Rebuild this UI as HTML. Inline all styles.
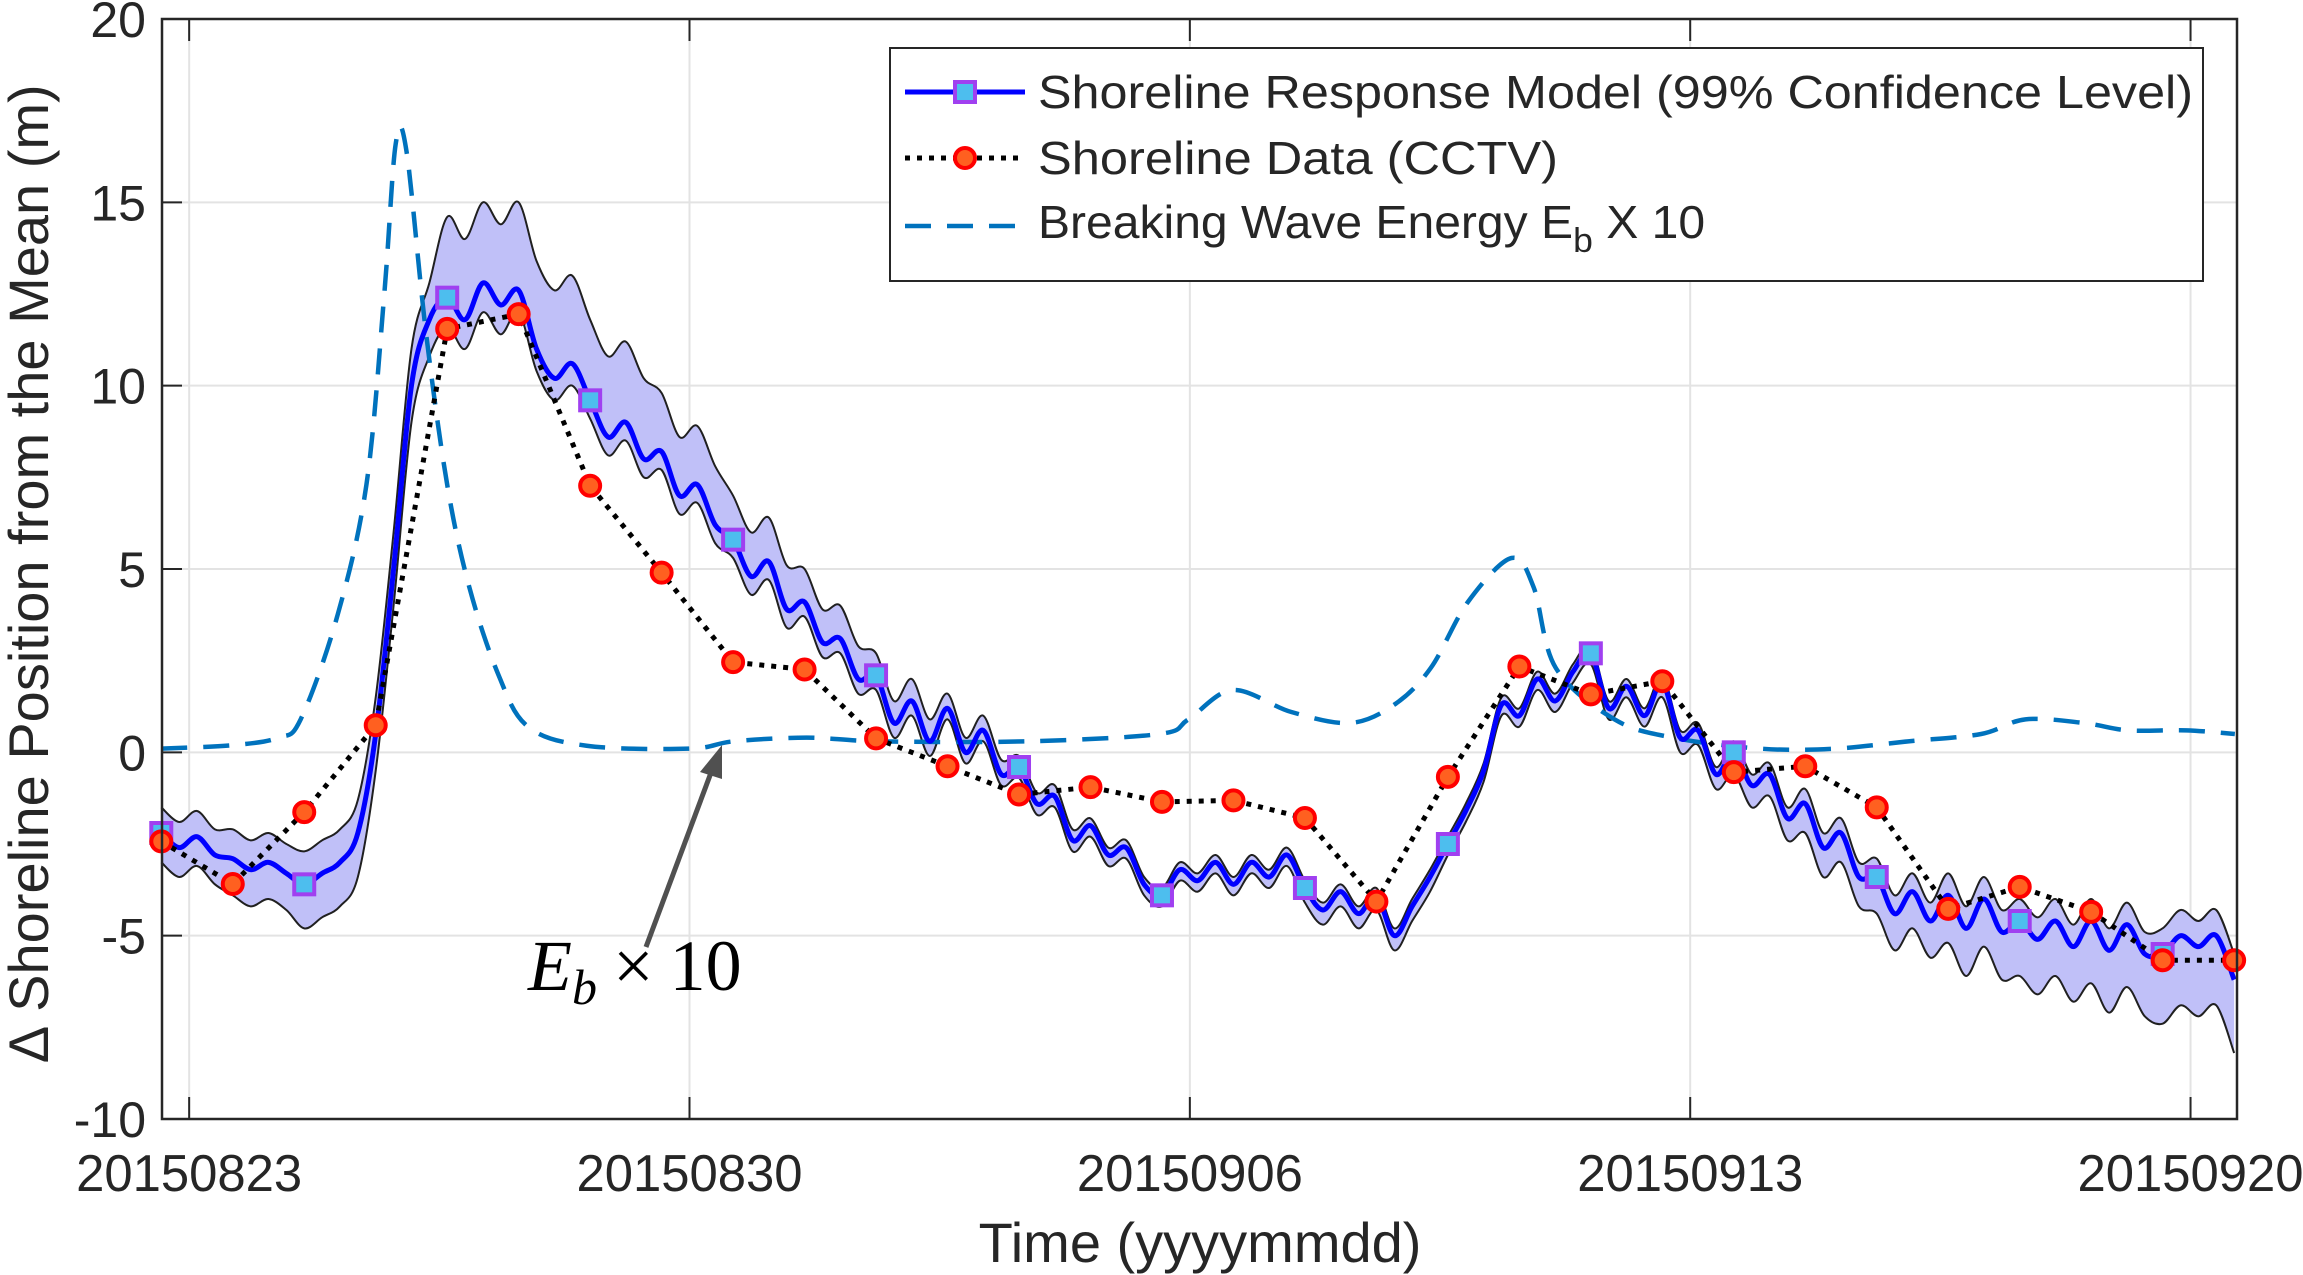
<!DOCTYPE html>
<html><head><meta charset="utf-8"><style>
html,body{margin:0;padding:0;background:#fff}
svg{display:block}
text{font-family:"Liberation Sans",Arial,sans-serif;fill:#262626}
</style></head><body>
<svg id="chart" width="2303" height="1275" viewBox="0 0 2303 1275" xmlns="http://www.w3.org/2000/svg">
<g id="grid"></g>
<g id="band"></g>
<g id="series"></g>
<g id="axes"></g>
<g id="legend"></g>
<g>
<line x1="646" y1="947" x2="712" y2="770" stroke="#505050" stroke-width="5"/>
<polygon points="722,745 700,772 722,779" fill="#505050"/>
<text x="528" y="990" style="font-family:'Liberation Serif',serif;font-size:72px;fill:#000"><tspan font-style="italic">E</tspan><tspan font-style="italic" font-size="50" dy="14">b</tspan><tspan dy="-14" dx="16">×</tspan><tspan dx="16">10</tspan></text>
</g>
</svg>
<script>
const yTicks=[-10,-5,0,5,10,15,20];
const xTickDays=[0,7,14,21,28];
const xTickLabels=["20150823","20150830","20150906","20150913","20150920"];
const modelStart=-0.39, modelStep=0.25;
const modelValues=[-2.2,-2.6,-2.3,-2.8,-2.9,-3.2,-3.0,-3.3,-3.6,-3.3,-3.0,-2.2,0.5,5.0,10.0,11.8,12.4,11.8,12.8,12.2,12.6,11.0,10.2,10.6,9.6,8.6,9.0,8.0,8.2,7.0,7.3,6.2,5.8,4.8,5.2,3.9,4.1,3.0,3.1,2.0,2.1,0.8,1.4,0.3,1.2,0.0,0.6,-0.6,-0.4,-1.4,-1.2,-2.4,-2.0,-2.8,-2.6,-3.6,-3.9,-3.2,-3.5,-3.0,-3.6,-3.0,-3.4,-2.8,-3.7,-4.3,-3.8,-4.4,-3.9,-5.0,-4.2,-3.4,-2.5,-1.6,-0.5,1.3,1.0,2.0,1.4,2.2,2.7,1.2,1.8,1.0,1.9,0.4,0.6,-0.6,0.0,-0.9,-0.6,-1.8,-1.4,-2.6,-2.2,-3.4,-3.4,-4.4,-3.8,-4.6,-3.9,-4.8,-4.0,-4.9,-4.6,-5.1,-4.6,-5.3,-4.6,-5.4,-4.7,-5.5,-5.5,-5.0,-5.3,-5.0,-6.2];
const bandUpper=[0.7,0.8,0.9,1.0,2.2,2.4,2.2,1.6,1.2,0.9,0.6,0.4,0.3,0.2,0.2,0.2,0.2,0.2,0.2,0.2,0.2,0.2,0.3,0.4,0.5,0.6,0.6,0.6,0.7,0.7];
const bandLower=[0.8,1.0,1.2,1.0,0.8,0.6,0.5,0.5,0.5,0.4,0.4,0.3,0.3,0.3,0.3,0.3,0.4,0.4,0.3,0.3,0.3,0.4,0.6,0.8,1.0,1.3,1.5,1.7,1.9,2.0];
const cctvStart=-0.39, cctvStep=1;
const cctvValues=[-2.43,-3.59,-1.63,0.74,11.55,11.95,7.27,4.9,2.46,2.26,0.38,-0.38,-1.15,-0.95,-1.35,-1.31,-1.79,-4.07,-0.67,2.34,1.58,1.94,-0.54,-0.38,-1.5,-4.27,-3.67,-4.35,-5.67,-5.67];
const energyDays=[-0.39,0.64,1.25,1.56,2.07,2.48,2.73,2.89,3.04,3.31,3.61,3.92,4.33,4.74,5.56,7.0,7.62,8.64,9.67,11.72,13.57,13.98,14.6,15.42,16.24,16.86,17.37,17.89,18.5,18.81,19.12,19.94,20.76,21.99,23.02,24.05,25.07,25.69,26.51,27.12,27.94,28.62];
const energyValues=[0.1,0.2,0.4,0.9,3.7,7.3,12.5,16.6,16.4,11.5,7.3,4.5,2.1,0.7,0.18,0.1,0.3,0.4,0.3,0.3,0.5,0.9,1.7,1.1,0.8,1.3,2.3,4.1,5.3,4.5,2.3,0.9,0.4,0.1,0.1,0.3,0.5,0.9,0.8,0.6,0.6,0.5];

const L=162,R=2237,T=19,B=1119,X0=-0.38,X1=28.65,Y0=-10,Y1=20;
const sx=d=>L+(d-X0)/(X1-X0)*(R-L);
const sy=v=>B-(v-Y0)/(Y1-Y0)*(B-T);
const NS="http://www.w3.org/2000/svg";
function mk(tag,parent,attrs){const e=document.createElementNS(NS,tag);for(const k in attrs)e.setAttribute(k,attrs[k]);parent.appendChild(e);return e;}
function smooth(pts,move){let d=(move?'M':'L')+pts[0][0]+','+pts[0][1];
 for(let i=0;i<pts.length-1;i++){const p0=pts[Math.max(0,i-1)],p1=pts[i],p2=pts[i+1],p3=pts[Math.min(pts.length-1,i+2)];
  const c1=[p1[0]+(p2[0]-p0[0])/6,p1[1]+(p2[1]-p0[1])/6],c2=[p2[0]-(p3[0]-p1[0])/6,p2[1]-(p3[1]-p1[1])/6];
  d+='C'+c1.join(',')+' '+c2.join(',')+' '+p2.join(',');}
 return d;}
const grid=document.getElementById('grid'),axes=document.getElementById('axes'),band=document.getElementById('band'),series=document.getElementById('series'),legend=document.getElementById('legend');

yTicks.forEach(v=>{
 const g=mk('line',grid,{x1:L,x2:R,y1:sy(v),y2:sy(v),stroke:'#e3e3e3','stroke-width':2});
 
 
 const t=mk('line',axes,{x1:L,x2:L+20,y1:sy(v),y2:sy(v),stroke:'#262626','stroke-width':2});
 
 
 const lb=mk('text',axes,{x:L-16,y:sy(v)+18,'text-anchor':'end','font-size':50});
 lb.textContent=v;
 
 
});
xTickDays.forEach((d,i)=>{
 const g=mk('line',grid,{x1:sx(d),x2:sx(d),y1:T,y2:B,stroke:'#e3e3e3','stroke-width':2});
 
 
 const t=mk('line',axes,{x1:sx(d),x2:sx(d),y1:B,y2:B-22,stroke:'#262626','stroke-width':2});
 
 
 const t2=mk('line',axes,{x1:sx(d),x2:sx(d),y1:T,y2:T+22,stroke:'#262626','stroke-width':2});
 
 
 const lb=mk('text',axes,{x:sx(d),y:B+72,'text-anchor':'middle','font-size':52,textLength:226,lengthAdjust:'spacingAndGlyphs'});
 lb.textContent=xTickLabels[i];
 
 
});
const frame=mk('rect',axes,{x:L,y:T,width:R-L,height:B-T,fill:'none',stroke:'#262626','stroke-width':2.5});


const xt=mk('text',axes,{x:1200,y:1262,'text-anchor':'middle','font-size':56});
xt.textContent='Time (yyyymmdd)';


const yt=mk('text',axes,{x:0,y:0,'text-anchor':'middle','font-size':56,transform:'translate(48,573) rotate(-90)'});
yt.textContent='∆ Shoreline Position from the Mean (m)';



const up=[],lo=[];
modelValues.forEach((v,i)=>{const d=modelStart+i*modelStep;const k=Math.min(bandUpper.length-1,Math.floor(d-modelStart));
 up.push([sx(d),sy(v+bandUpper[k])]);lo.push([sx(d),sy(v-bandLower[k])]);});
const bandPath=smooth(up,true)+smooth(lo.slice().reverse(),false)+'Z';
const poly=mk('path',band,{d:bandPath,fill:'#c0c0f8',stroke:'none'});


const pu=mk('path',band,{d:smooth(up,true),fill:'none',stroke:'#202020','stroke-width':2});


const pl=mk('path',band,{d:smooth(lo,true),fill:'none',stroke:'#202020','stroke-width':2});



const ep=mk('path',series,{d:smooth(energyDays.map((d,i)=>[sx(d),sy(energyValues[i])]),true),fill:'none',stroke:'#0072bd','stroke-width':4.5,'stroke-dasharray':'26,16'});


const mp=mk('path',series,{d:smooth(modelValues.map((v,i)=>[sx(modelStart+i*modelStep),sy(v)]),true),fill:'none',stroke:'#0000ff','stroke-width':5,'stroke-linejoin':'round'});


const cp=mk('polyline',series,{points:cctvValues.map((v,i)=>sx(cctvStart+i*cctvStep)+','+sy(v)).join(' '),fill:'none',stroke:'#000','stroke-width':5,'stroke-dasharray':'5,7'});


modelValues.forEach((v,i)=>{if(i%8)return;const d=modelStart+i*modelStep;
 const s=mk('rect',series,{x:sx(d)-10,y:sy(v)-10,width:20,height:20,fill:'#4dbeee',stroke:'#a040f0','stroke-width':4});
 
 
});
cctvValues.forEach((v,i)=>{
 const c=mk('circle',series,{cx:sx(cctvStart+i*cctvStep),cy:sy(v),r:10,fill:'#ff6020',stroke:'#ff0000','stroke-width':4});
 
 
});

const lbx=mk('rect',legend,{x:890,y:48,width:1313,height:233,fill:'#fff',stroke:'#262626','stroke-width':2});


const rows=[92,158,226];
let e=mk('line',legend,{x1:905,x2:1025,y1:rows[0],y2:rows[0],stroke:'#0000ff','stroke-width':5});

e=mk('rect',legend,{x:955,y:rows[0]-10,width:20,height:20,fill:'#4dbeee',stroke:'#a040f0','stroke-width':4});

e=mk('line',legend,{x1:905,x2:1025,y1:rows[1],y2:rows[1],stroke:'#000','stroke-width':5,'stroke-dasharray':'5,7'});

e=mk('circle',legend,{cx:965,cy:rows[1],r:10,fill:'#ff6020',stroke:'#ff0000','stroke-width':4});

e=mk('line',legend,{x1:905,x2:1025,y1:rows[2],y2:rows[2],stroke:'#0072bd','stroke-width':4.5,'stroke-dasharray':'26,16'});

e=mk('text',legend,{x:1038,y:rows[0]+16,'font-size':46,textLength:1155,lengthAdjust:'spacingAndGlyphs'});
e.textContent='Shoreline Response Model (99% Confidence Level)';

e=mk('text',legend,{x:1038,y:rows[1]+16,'font-size':46,textLength:520,lengthAdjust:'spacingAndGlyphs'});
e.textContent='Shoreline Data (CCTV)';

e=mk('text',legend,{x:1038,y:rows[2]+12,'font-size':46,transform:'translate(1038,0) scale(1.045,1) translate(-1038,0)'});
e.innerHTML='Breaking Wave Energy E<tspan font-size="34" dy="14">b</tspan><tspan dy="-14"> X 10</tspan>';

</script>
</body></html>
